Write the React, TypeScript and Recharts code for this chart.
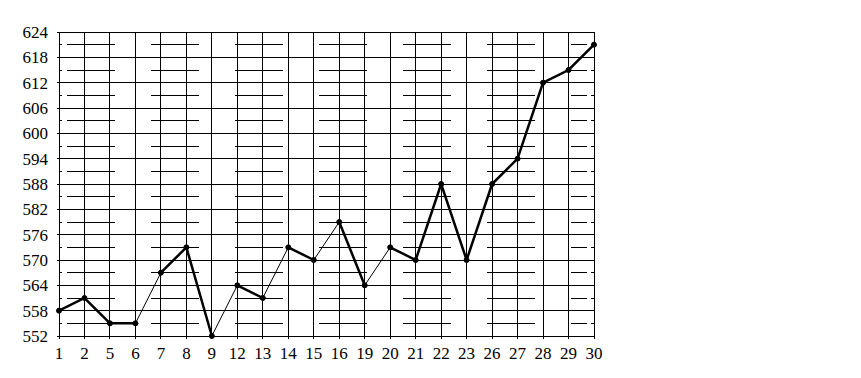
import { LineChart, Line, XAxis, YAxis, CartesianGrid, ReferenceLine } from "recharts";

const DAYS = ["1", "2", "5", "6", "7", "8", "9", "12", "13", "14", "15", "16", "19", "20", "21", "22", "23", "26", "27", "28", "29", "30"];
const VALUES = [558, 561, 555, 555, 567, 573, 552, 564, 561, 573, 570, 579, 564, 573, 570, 588, 570, 588, 594, 612, 615, 621];
// segments drawn with the thin pen (index = segment from point i to i+1)
const THIN_SEGMENTS = [3, 6, 8, 10, 12];
const Y_TICKS = [552, 558, 564, 570, 576, 582, 588, 594, 600, 606, 612, 618, 624];
const MINOR_LINES = [555, 561, 567, 573, 579, 585, 591, 597, 603, 609, 615, 621];

const FONT = { fill: "#000", fontFamily: "'Liberation Serif', 'Times New Roman', serif", fontSize: 17 };

type Row = { day: string; value: number; thickA: number | null; thickB: number | null };

const data: Row[] = DAYS.map((day, i) => ({ day, value: VALUES[i], thickA: null, thickB: null }));
// split the thick runs over two series so no thick segment bridges a thin one
for (let i = 0; i < VALUES.length - 1; i++) {
  if (THIN_SEGMENTS.includes(i)) continue;
  const run = THIN_SEGMENTS.filter((s) => s < i).length;
  const key = run % 2 === 0 ? "thickA" : "thickB";
  data[i][key] = VALUES[i];
  data[i + 1][key] = VALUES[i + 1];
}

// minor grid line: short stubs at both ends, long dashes between
const MinorLine = (props: any) => {
  const { x1, y1, x2 } = props;
  if (x1 == null || y1 == null) return null;
  return (
    <g>
      <line x1={x1} y1={y1} x2={x1 + 3} y2={y1} stroke="#000" strokeWidth={1} />
      <line x1={x1} y1={y1} x2={x2 - 7} y2={y1} stroke="#000" strokeWidth={1} strokeDasharray="0 8 48 28" />
      <line x1={x2 - 3} y1={y1} x2={x2} y2={y1} stroke="#000" strokeWidth={1} />
    </g>
  );
};

const CSS = `
.recharts-cartesian-grid line,
.recharts-reference-line line,
.recharts-cartesian-axis line { shape-rendering: crispEdges; }
`;

export default function App() {
  return (
    <div>
      <style>{CSS}</style>
      <LineChart width={845} height={362} data={data} margin={{ top: 24, right: 259, bottom: 0, left: 0 }}>
        <CartesianGrid stroke="#000" strokeWidth={1} strokeOpacity={1} />
        {MINOR_LINES.map((v) => (
          <ReferenceLine key={v} y={v} shape={MinorLine} ifOverflow="hidden" />
        ))}
        <XAxis
          dataKey="day"
          interval={0}
          padding={{ left: 0, right: 0 }}
          stroke="#000"
          tick={FONT}
          tickSize={3}
          tickMargin={8}
          height={34}
        />
        <YAxis
          domain={[552, 624]}
          ticks={Y_TICKS}
          interval={0}
          stroke="#000"
          tick={FONT}
          tickSize={2}
          tickMargin={9}
          width={51}
        />
        <Line dataKey="thickA" stroke="#000" strokeWidth={2.5} dot={false} isAnimationActive={false} />
        <Line dataKey="thickB" stroke="#000" strokeWidth={2.5} dot={false} isAnimationActive={false} />
        <Line
          dataKey="value"
          stroke="#000"
          strokeWidth={1}
          dot={{ r: 2.5, fill: "#000", stroke: "#000", strokeWidth: 1 }}
          isAnimationActive={false}
        />
      </LineChart>
    </div>
  );
}
